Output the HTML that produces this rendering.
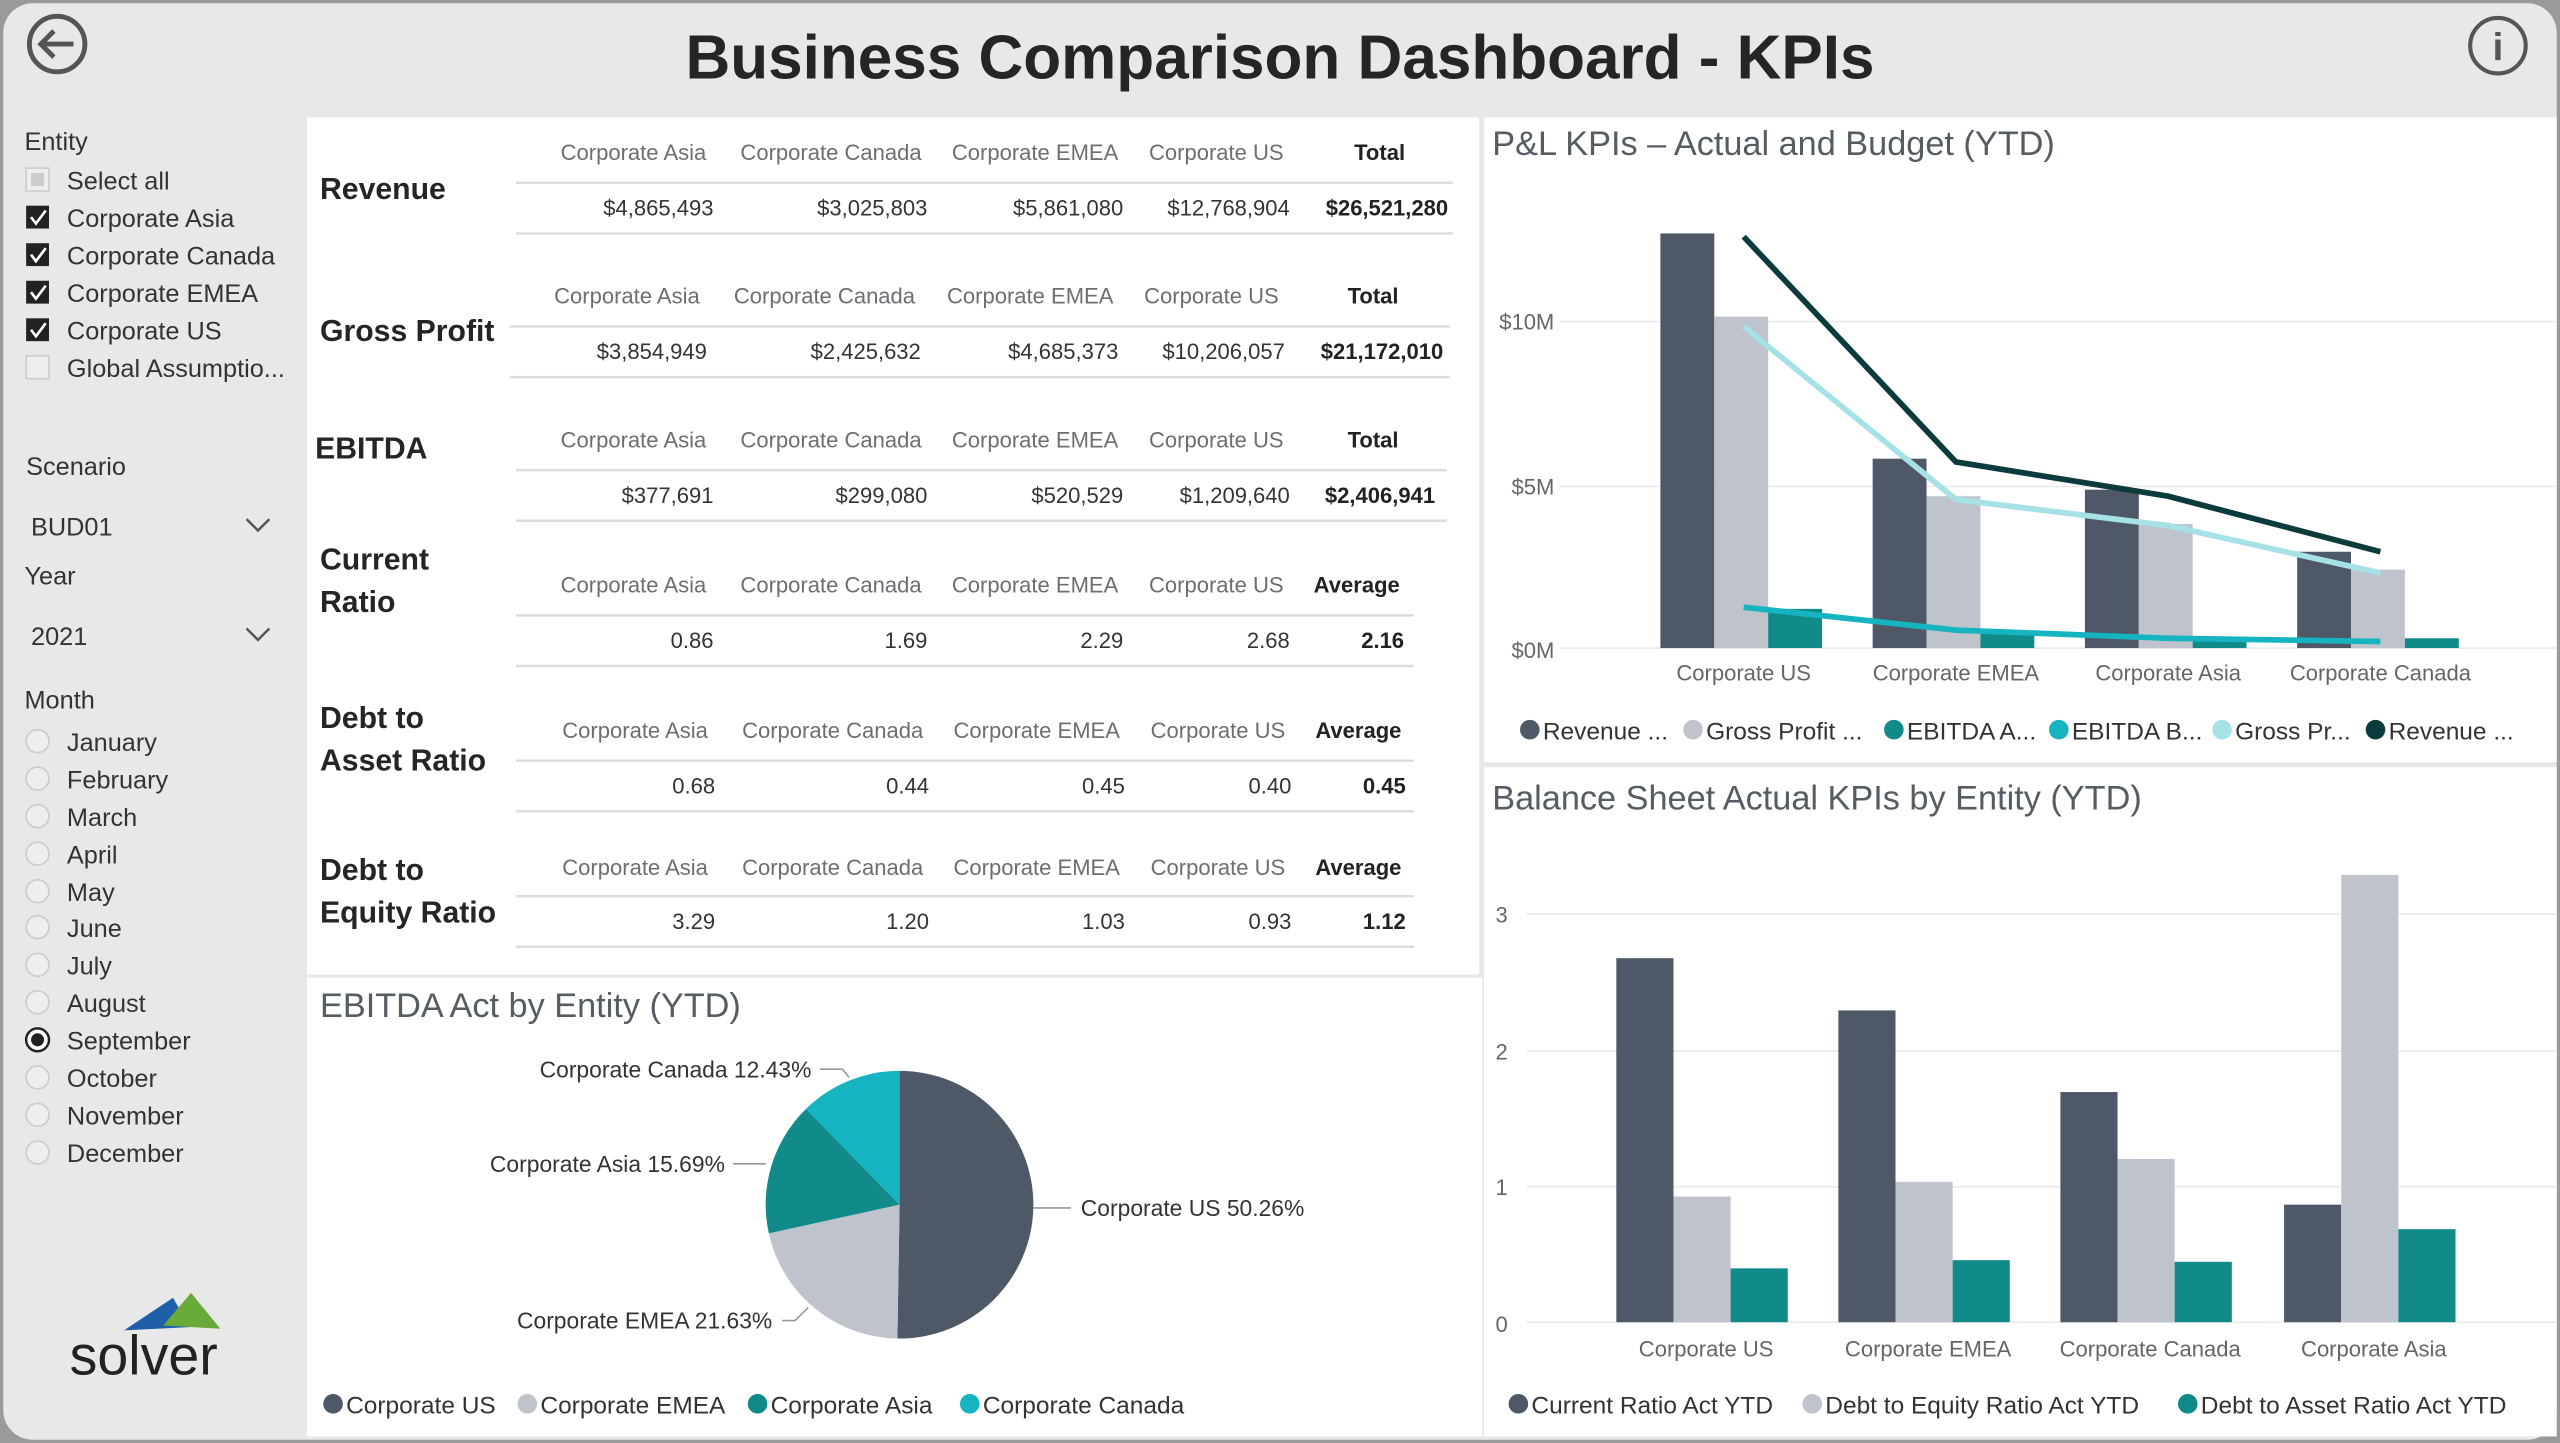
<!DOCTYPE html>
<html><head><meta charset="utf-8"><style>
html,body{margin:0;padding:0;background:#fff;overflow:hidden}
svg{display:block}
text{font-family:"Liberation Sans",sans-serif}
.h{fill:#6b6f73;font-size:13.5px;text-anchor:middle}
.v{fill:#333;font-size:13.5px;text-anchor:end}
.b{font-weight:bold;fill:#222}
.lab{font-size:18.5px;font-weight:bold;fill:#252525}
.sb{font-size:15.5px;fill:#333}
.ax{font-size:13.5px;fill:#666}
.lg{font-size:15px;fill:#333}
.tt{font-size:21px;fill:#555c64}
</style></head><body>
<svg width="2560" height="1443" viewBox="0 0 1568 884" preserveAspectRatio="none" xmlns="http://www.w3.org/2000/svg">
<rect x="0" y="0" width="1568" height="884" fill="#9a9a9a"/>
<rect x="2" y="2" width="1564" height="880" rx="18" fill="#e8e8e8"/>
<!-- header -->
<circle cx="35" cy="27" r="17" fill="none" stroke="#555" stroke-width="3"/>
<path d="M45 27H26M33 19l-8 8 8 8" fill="none" stroke="#555" stroke-width="3"/>
<circle cx="1530" cy="28" r="17" fill="none" stroke="#555" stroke-width="2.5"/>
<text x="1530" y="37" font-size="24" font-weight="bold" fill="#555" text-anchor="middle">i</text>
<text x="784" y="48" font-size="38" font-weight="bold" fill="#252525" text-anchor="middle">Business Comparison Dashboard - KPIs</text>
<!-- panels -->
<rect x="188" y="72" width="718" height="525" fill="#fff"/>
<rect x="188" y="599" width="720" height="281" fill="#fff"/>
<rect x="909" y="72" width="657" height="395" fill="#fff"/>
<rect x="909" y="470" width="657" height="410" fill="#fff"/>
<!-- sidebar -->
<text x="15" y="92" class="sb" font-size="16.5">Entity</text>
<rect x="16" y="103" width="14" height="14" fill="#eee" stroke="#ccc"/><rect x="19" y="106" width="8" height="8" fill="#ccc"/>
<text x="41" y="116" class="sb">Select all</text>
<g fill="#222"><rect x="16" y="126" width="14" height="14"/><rect x="16" y="149" width="14" height="14"/><rect x="16" y="172" width="14" height="14"/><rect x="16" y="195" width="14" height="14"/></g>
<g fill="none" stroke="#fff" stroke-width="1.6"><path d="M19 133l3 4 6-8"/><path d="M19 156l3 4 6-8"/><path d="M19 179l3 4 6-8"/><path d="M19 202l3 4 6-8"/></g>
<text x="41" y="139" class="sb">Corporate Asia</text>
<text x="41" y="162" class="sb">Corporate Canada</text>
<text x="41" y="185" class="sb">Corporate EMEA</text>
<text x="41" y="208" class="sb">Corporate US</text>
<rect x="16" y="218" width="14" height="14" fill="#eee" stroke="#ccc"/>
<text x="41" y="231" class="sb">Global Assumptio...</text>
<text x="16" y="291" class="sb" font-size="16.5">Scenario</text>
<text x="19" y="328" class="sb">BUD01</text>
<path d="M151 318l7 7 7-7" fill="none" stroke="#555" stroke-width="1.5"/>
<text x="15" y="358" class="sb" font-size="16.5">Year</text>
<text x="19" y="395" class="sb">2021</text>
<path d="M151 385l7 7 7-7" fill="none" stroke="#555" stroke-width="1.5"/>
<text x="15" y="434" class="sb" font-size="16.5">Month</text>
<g class="sb">
<text x="41" y="460">January</text><text x="41" y="483">February</text><text x="41" y="506">March</text><text x="41" y="529">April</text><text x="41" y="552">May</text><text x="41" y="574">June</text><text x="41" y="597">July</text><text x="41" y="620">August</text><text x="41" y="643">September</text><text x="41" y="666">October</text><text x="41" y="689">November</text><text x="41" y="712">December</text>
</g>
<g fill="#eee" stroke="#ccc"><circle cx="23" cy="454" r="7"/><circle cx="23" cy="477" r="7"/><circle cx="23" cy="500" r="7"/><circle cx="23" cy="523" r="7"/><circle cx="23" cy="546" r="7"/><circle cx="23" cy="568" r="7"/><circle cx="23" cy="591" r="7"/><circle cx="23" cy="614" r="7"/><circle cx="23" cy="660" r="7"/><circle cx="23" cy="683" r="7"/><circle cx="23" cy="706" r="7"/></g>
<circle cx="23" cy="637" r="7" fill="#fff" stroke="#222" stroke-width="1.5"/><circle cx="23" cy="637" r="4" fill="#222"/>
<path d="M76 815l30-20 10 18z" fill="#1f5fa8"/><path d="M100 812l17-20 18 22z" fill="#6aaa3a"/>
<text x="88" y="842" font-size="34" fill="#222" text-anchor="middle">solver</text>
<!-- tables -->
<g id="tbl">
<text x="196" y="122" class="lab">Revenue</text>
<text x="196" y="209" class="lab">Gross Profit</text>
<text x="193" y="281" class="lab">EBITDA</text>
<text x="196" y="349" class="lab">Current</text><text x="196" y="375" class="lab">Ratio</text>
<text x="196" y="446" class="lab">Debt to</text><text x="196" y="472" class="lab">Asset Ratio</text>
<text x="196" y="539" class="lab">Debt to</text><text x="196" y="565" class="lab">Equity Ratio</text>
<g stroke="#ddd" stroke-width="1.5">
<line x1="316" y1="112" x2="890" y2="112"/><line x1="316" y1="143" x2="890" y2="143"/>
<line x1="312" y1="200" x2="888" y2="200"/><line x1="312" y1="231" x2="888" y2="231"/>
<line x1="316" y1="288" x2="886" y2="288"/><line x1="316" y1="319" x2="886" y2="319"/>
<line x1="316" y1="377" x2="866" y2="377"/><line x1="316" y1="408" x2="866" y2="408"/>
<line x1="316" y1="466" x2="866" y2="466"/><line x1="316" y1="497" x2="866" y2="497"/>
<line x1="316" y1="549" x2="866" y2="549"/><line x1="316" y1="580" x2="866" y2="580"/>
</g>
<g class="h">
<text x="388" y="98">Corporate Asia</text><text x="509" y="98">Corporate Canada</text><text x="634" y="98">Corporate EMEA</text><text x="745" y="98">Corporate US</text><text x="845" y="98" class="b">Total</text>
<text x="384" y="186">Corporate Asia</text><text x="505" y="186">Corporate Canada</text><text x="631" y="186">Corporate EMEA</text><text x="742" y="186">Corporate US</text><text x="841" y="186" class="b">Total</text>
<text x="388" y="274">Corporate Asia</text><text x="509" y="274">Corporate Canada</text><text x="634" y="274">Corporate EMEA</text><text x="745" y="274">Corporate US</text><text x="841" y="274" class="b">Total</text>
<text x="388" y="363">Corporate Asia</text><text x="509" y="363">Corporate Canada</text><text x="634" y="363">Corporate EMEA</text><text x="745" y="363">Corporate US</text><text x="831" y="363" class="b">Average</text>
<text x="389" y="452">Corporate Asia</text><text x="510" y="452">Corporate Canada</text><text x="635" y="452">Corporate EMEA</text><text x="746" y="452">Corporate US</text><text x="832" y="452" class="b">Average</text>
<text x="389" y="536">Corporate Asia</text><text x="510" y="536">Corporate Canada</text><text x="635" y="536">Corporate EMEA</text><text x="746" y="536">Corporate US</text><text x="832" y="536" class="b">Average</text>
</g>
<g class="v">
<text x="437" y="132">$4,865,493</text><text x="568" y="132">$3,025,803</text><text x="688" y="132">$5,861,080</text><text x="790" y="132">$12,768,904</text><text x="887" y="132" class="b">$26,521,280</text>
<text x="433" y="220">$3,854,949</text><text x="564" y="220">$2,425,632</text><text x="685" y="220">$4,685,373</text><text x="787" y="220">$10,206,057</text><text x="884" y="220" class="b">$21,172,010</text>
<text x="437" y="308">$377,691</text><text x="568" y="308">$299,080</text><text x="688" y="308">$520,529</text><text x="790" y="308">$1,209,640</text><text x="879" y="308" class="b">$2,406,941</text>
<text x="437" y="397">0.86</text><text x="568" y="397">1.69</text><text x="688" y="397">2.29</text><text x="790" y="397">2.68</text><text x="860" y="397" class="b">2.16</text>
<text x="438" y="486">0.68</text><text x="569" y="486">0.44</text><text x="689" y="486">0.45</text><text x="791" y="486">0.40</text><text x="861" y="486" class="b">0.45</text>
<text x="438" y="569">3.29</text><text x="569" y="569">1.20</text><text x="689" y="569">1.03</text><text x="791" y="569">0.93</text><text x="861" y="569" class="b">1.12</text>
</g>
</g>
<!-- P&L chart -->
<text x="914" y="95" class="tt">P&amp;L KPIs – Actual and Budget (YTD)</text>
<g stroke="#eaeaea"><line x1="955" y1="197" x2="1566" y2="197"/><line x1="955" y1="298" x2="1566" y2="298"/><line x1="955" y1="397" x2="1566" y2="397"/></g>
<g class="ax" text-anchor="end"><text x="952" y="202">$10M</text><text x="952" y="303">$5M</text><text x="952" y="403">$0M</text></g>
<g fill="#4e5867"><rect x="1017" y="143" width="33" height="254"/><rect x="1147" y="281" width="33" height="116"/><rect x="1277" y="300" width="33" height="97"/><rect x="1407" y="338" width="33" height="59"/></g>
<g fill="#bfc4cc"><rect x="1050" y="194" width="33" height="203"/><rect x="1180" y="304" width="33" height="93"/><rect x="1310" y="321" width="33" height="76"/><rect x="1440" y="349" width="33" height="48"/></g>
<g fill="#118a8a"><rect x="1083" y="373" width="33" height="24"/><rect x="1213" y="387" width="33" height="10"/><rect x="1343" y="390" width="33" height="7"/><rect x="1473" y="391" width="33" height="6"/></g>
<polyline points="1068,372 1198,386 1328,391 1458,393" fill="none" stroke="#16b4c0" stroke-width="3.5"/>
<polyline points="1068,200 1198,306 1328,322 1458,351" fill="none" stroke="#a6e1e5" stroke-width="3.5"/>
<polyline points="1068,145 1198,283 1328,304 1458,338" fill="none" stroke="#0b3b3c" stroke-width="3.5"/>
<g class="ax" text-anchor="middle" font-size="14"><text x="1068" y="417">Corporate US</text><text x="1198" y="417">Corporate EMEA</text><text x="1328" y="417">Corporate Asia</text><text x="1458" y="417">Corporate Canada</text></g>
<g class="lg"><circle cx="937" cy="447" r="6" fill="#4e5867"/><text x="945" y="453">Revenue ...</text>
<circle cx="1037" cy="447" r="6" fill="#bfc4cc"/><text x="1045" y="453">Gross Profit ...</text>
<circle cx="1160" cy="447" r="6" fill="#118a8a"/><text x="1168" y="453">EBITDA A...</text>
<circle cx="1261" cy="447" r="6" fill="#16b4c0"/><text x="1269" y="453">EBITDA B...</text>
<circle cx="1361" cy="447" r="6" fill="#a6e1e5"/><text x="1369" y="453">Gross Pr...</text>
<circle cx="1455" cy="447" r="6" fill="#0b3b3c"/><text x="1463" y="453">Revenue ...</text></g>
<!-- Balance chart -->
<text x="914" y="496" class="tt">Balance Sheet Actual KPIs by Entity (YTD)</text>
<g stroke="#eaeaea"><line x1="935" y1="560" x2="1566" y2="560"/><line x1="935" y1="644" x2="1566" y2="644"/><line x1="935" y1="727" x2="1566" y2="727"/><line x1="935" y1="810" x2="1566" y2="810"/></g>
<g class="ax"><text x="916" y="565">3</text><text x="916" y="649">2</text><text x="916" y="732">1</text><text x="916" y="816">0</text></g>
<g fill="#4e5867"><rect x="990" y="587" width="35" height="223"/><rect x="1126" y="619" width="35" height="191"/><rect x="1262" y="669" width="35" height="141"/><rect x="1399" y="738" width="35" height="72"/></g>
<g fill="#bfc4cc"><rect x="1025" y="733" width="35" height="77"/><rect x="1161" y="724" width="35" height="86"/><rect x="1297" y="710" width="35" height="100"/><rect x="1434" y="536" width="35" height="274"/></g>
<g fill="#118a8a"><rect x="1060" y="777" width="35" height="33"/><rect x="1196" y="772" width="35" height="38"/><rect x="1332" y="773" width="35" height="37"/><rect x="1469" y="753" width="35" height="57"/></g>
<g class="ax" text-anchor="middle" font-size="14"><text x="1045" y="831">Corporate US</text><text x="1181" y="831">Corporate EMEA</text><text x="1317" y="831">Corporate Canada</text><text x="1454" y="831">Corporate Asia</text></g>
<g class="lg"><circle cx="930" cy="860" r="6" fill="#4e5867"/><text x="938" y="866">Current Ratio Act YTD</text>
<circle cx="1110" cy="860" r="6" fill="#bfc4cc"/><text x="1118" y="866">Debt to Equity Ratio Act YTD</text>
<circle cx="1340" cy="860" r="6" fill="#118a8a"/><text x="1348" y="866">Debt to Asset Ratio Act YTD</text></g>
<!-- Pie -->
<text x="196" y="623" class="tt">EBITDA Act by Entity (YTD)</text>
<g transform="translate(551,738)">
<path d="M0 0 L0 -82 A82 82 0 1 1 -1.34 81.99 Z" fill="#4e5867"/>
<path d="M0 0 L-1.34 81.99 A82 82 0 0 1 -80.1 17.6 Z" fill="#bfc4cc"/>
<path d="M0 0 L-80.1 17.6 A82 82 0 0 1 -57.3 -58.7 Z" fill="#118a8a"/>
<path d="M0 0 L-57.3 -58.7 A82 82 0 0 1 0 -82 Z" fill="#16b4c0"/>
</g>
<g stroke="#999" fill="none"><path d="M633 740H656"/><path d="M502 655h14l4 5"/><path d="M449 713h20"/><path d="M479 809h8l8-8"/></g>
<g font-size="14" fill="#333"><text x="662" y="745">Corporate US 50.26%</text>
<text x="497" y="660" text-anchor="end">Corporate Canada 12.43%</text>
<text x="444" y="718" text-anchor="end">Corporate Asia 15.69%</text>
<text x="473" y="814" text-anchor="end">Corporate EMEA 21.63%</text></g>
<g class="lg"><circle cx="204" cy="860" r="6" fill="#4e5867"/><text x="212" y="866">Corporate US</text>
<circle cx="323" cy="860" r="6" fill="#bfc4cc"/><text x="331" y="866">Corporate EMEA</text>
<circle cx="464" cy="860" r="6" fill="#118a8a"/><text x="472" y="866">Corporate Asia</text>
<circle cx="594" cy="860" r="6" fill="#16b4c0"/><text x="602" y="866">Corporate Canada</text></g>
</svg>
</body></html>
